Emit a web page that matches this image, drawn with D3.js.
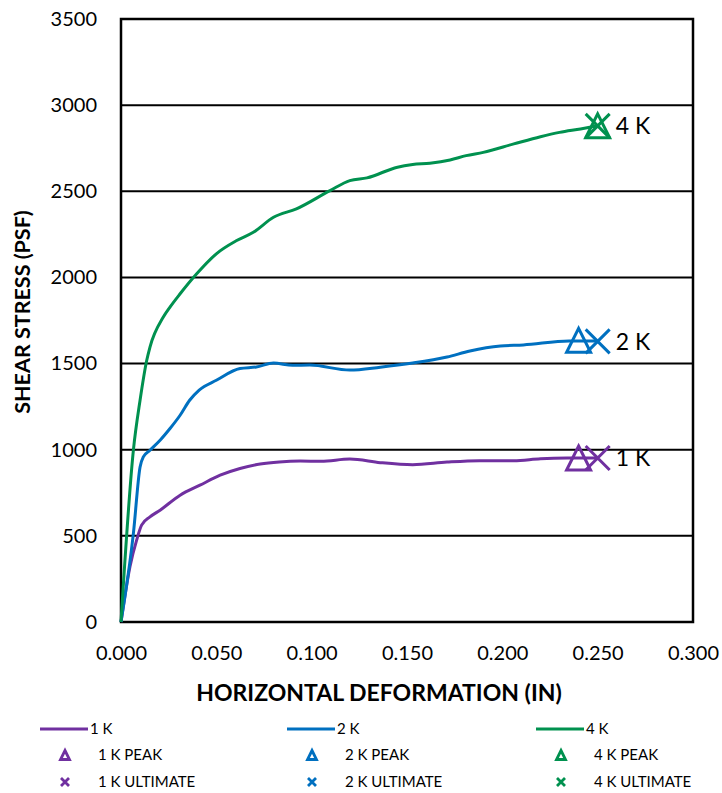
<!DOCTYPE html>
<html>
<head>
<meta charset="utf-8">
<script src="https://cdn.jsdelivr.net/npm/d3@7/dist/d3.min.js"></script>
<style>
  html, body { margin: 0; padding: 0; background: #fff; }
  svg { display: block; font-family: Lato, "Open Sans", sans-serif; }
</style>
</head>
<body>
<svg id="chart" width="722" height="793"></svg>
<script>
// Shear stress vs horizontal deformation for three normal loads
const seriesNames = ["1 K", "2 K", "4 K"];
const seriesColors = ["#7030A0", "#0070C0", "#00914F"];

const deform1K = [0, 0.0047, 0.0082, 0.0108, 0.0152, 0.0205, 0.031, 0.0414, 0.052, 0.0624, 0.073, 0.083, 0.094, 0.105, 0.120, 0.136, 0.153, 0.171, 0.188, 0.206, 0.220, 0.234, 0.250];
const stress1K = [0, 321, 475, 562, 610, 649, 736, 794, 852, 891, 917, 929, 934, 933, 946, 925, 913, 928, 936, 936, 948, 952, 952];

const deform2K = [0, 0.0065, 0.010, 0.0117, 0.0152, 0.0205, 0.0257, 0.031, 0.036, 0.041, 0.050, 0.0624, 0.071, 0.080, 0.090, 0.099, 0.120, 0.136, 0.153, 0.171, 0.183, 0.199, 0.211, 0.235, 0.250];
const stress2K = [0, 514, 900, 958, 997, 1055, 1123, 1200, 1287, 1346, 1403, 1471, 1480, 1503, 1490, 1491, 1462, 1479, 1503, 1538, 1573, 1602, 1608, 1631, 1631];

const deform4K = [0, 0.0065, 0.010, 0.0135, 0.0152, 0.0222, 0.0257, 0.031, 0.0397, 0.050, 0.0607, 0.0694, 0.080, 0.092, 0.1096, 0.120, 0.129, 0.145, 0.153, 0.162, 0.1726, 0.181, 0.190, 0.206, 0.220, 0.230, 0.241, 0.250];
const stress4K = [0, 998, 1287, 1519, 1596, 1770, 1828, 1905, 2021, 2137, 2214, 2262, 2349, 2398, 2504, 2562, 2578, 2640, 2655, 2663, 2682, 2707, 2726, 2775, 2817, 2842, 2862, 2880];

// Peak and ultimate points per test
const peakDeform = [0.240, 0.240, 0.250];
const peakStress = [952, 1635, 2880];
const ultDeform = [0.250, 0.250, 0.250];
const ultStress = [952, 1629, 2880];

const xTicks = [0, 0.05, 0.1, 0.15, 0.2, 0.25, 0.3];
const yTicks = [0, 500, 1000, 1500, 2000, 2500, 3000, 3500];

const xTitle = "HORIZONTAL DEFORMATION (IN)";
const yTitle = "SHEAR STRESS (PSF)";

const curves = [
  deform1K.map((d, i) => [d, stress1K[i]]),
  deform2K.map((d, i) => [d, stress2K[i]]),
  deform4K.map((d, i) => [d, stress4K[i]])
];

const svg = d3.select("#chart");
const plot = { left: 121, right: 693, top: 19, bottom: 622 };

const x = d3.scaleLinear().domain([0, 0.3]).range([plot.left, plot.right]);
const y = d3.scaleLinear().domain([0, 3500]).range([plot.bottom, plot.top]);

// Horizontal gridlines
svg.append("g")
  .selectAll("line")
  .data(yTicks)
  .join("line")
  .attr("x1", plot.left).attr("x2", plot.right)
  .attr("y1", d => y(d)).attr("y2", d => y(d))
  .attr("stroke", "#000").attr("stroke-width", 2);

// Plot frame
svg.append("rect")
  .attr("x", plot.left).attr("y", plot.top)
  .attr("width", plot.right - plot.left).attr("height", plot.bottom - plot.top)
  .attr("fill", "none").attr("stroke", "#000").attr("stroke-width", 2.5);

// Axes (labels only)
const xAxis = svg.append("g")
  .attr("transform", `translate(0,${plot.bottom})`)
  .call(d3.axisBottom(x).tickValues(xTicks).tickFormat(d3.format(".3f")).tickSize(0).tickPadding(24));
xAxis.select(".domain").remove();
xAxis.selectAll("text").attr("font-size", 20).attr("fill", "#000").attr("font-family", "Lato, sans-serif");

const yAxis = svg.append("g")
  .attr("transform", `translate(${plot.left},0)`)
  .call(d3.axisLeft(y).tickValues(yTicks).tickFormat(d3.format("d")).tickSize(0).tickPadding(24));
yAxis.select(".domain").remove();
yAxis.selectAll("text").attr("font-size", 20).attr("fill", "#000").attr("font-family", "Lato, sans-serif");

// Axis titles
svg.append("text")
  .attr("x", 379).attr("y", 701)
  .attr("text-anchor", "middle").attr("font-weight", "bold").attr("font-size", 23)
  .text(xTitle);
svg.append("text")
  .attr("transform", `translate(30,312) rotate(-90)`)
  .attr("text-anchor", "middle").attr("font-weight", "bold").attr("font-size", 21.5)
  .text(yTitle);

// Curves
const line = d3.line().x(d => x(d[0])).y(d => y(d[1])).curve(d3.curveMonotoneX);
svg.append("g")
  .selectAll("path")
  .data(curves)
  .join("path")
  .attr("d", line)
  .attr("fill", "none")
  .attr("stroke", (d, i) => seriesColors[i])
  .attr("stroke-width", 3)
  .attr("stroke-linejoin", "round");

// Marker shapes
const triPath = s => `M0,${-s * 0.5}L${s * 0.5},${s * 0.5}L${-s * 0.5},${s * 0.5}Z`;
const xPath = s => `M${-s / 2},${-s / 2}L${s / 2},${s / 2}M${s / 2},${-s / 2}L${-s / 2},${s / 2}`;

const markers = svg.append("g");
seriesNames.forEach((name, i) => {
  markers.append("path")
    .attr("transform", `translate(${x(peakDeform[i])},${y(peakStress[i])})`)
    .attr("d", triPath(24))
    .attr("fill", "none").attr("stroke", seriesColors[i]).attr("stroke-width", 3);
  markers.append("path")
    .attr("transform", `translate(${x(ultDeform[i])},${y(ultStress[i])})`)
    .attr("d", xPath(24))
    .attr("fill", "none").attr("stroke", seriesColors[i]).attr("stroke-width", 3);
  markers.append("text")
    .attr("x", x(ultDeform[i]) + 18).attr("y", y(ultStress[i]))
    .attr("dy", "0.36em").attr("font-size", 23)
    .text(name);
});

// Legend
const legendCols = [40, 287, 536];
const legendRows = [729, 755, 782];
const legend = svg.append("g").attr("font-size", 15);
seriesNames.forEach((name, i) => {
  const cx = legendCols[i];
  legend.append("line")
    .attr("x1", cx).attr("x2", cx + 48)
    .attr("y1", legendRows[0]).attr("y2", legendRows[0])
    .attr("stroke", seriesColors[i]).attr("stroke-width", 3);
  legend.append("text").attr("x", cx + 50).attr("y", legendRows[0]).attr("dy", "0.36em").text(name);

  legend.append("path")
    .attr("transform", `translate(${cx + 25},${legendRows[1]})`)
    .attr("d", triPath(9))
    .attr("fill", "none").attr("stroke", seriesColors[i]).attr("stroke-width", 2.8);
  legend.append("text").attr("x", cx + 58).attr("y", legendRows[1]).attr("dy", "0.36em").text(name + " PEAK");

  legend.append("path")
    .attr("transform", `translate(${cx + 25},${legendRows[2]})`)
    .attr("d", xPath(8))
    .attr("fill", "none").attr("stroke", seriesColors[i]).attr("stroke-width", 2.8);
  legend.append("text").attr("x", cx + 58).attr("y", legendRows[2]).attr("dy", "0.36em").text(name + " ULTIMATE");
});
</script>
</body>
</html>
